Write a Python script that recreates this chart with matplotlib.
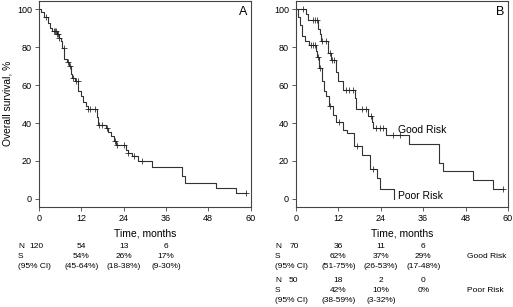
import numpy as np
import matplotlib
matplotlib.use("Agg")
from matplotlib import pyplot as plt
import matplotlib.transforms as mtransforms

plt.rcParams['font.family'] = ['Liberation Sans', 'DejaVu Sans']

# panel A: all patients (event times, survival after event)
a_t = [0, 0.7, 1.5, 2.5, 3.2, 3.8, 5.0, 5.6, 6.2, 6.6, 7.2, 8.0, 8.6, 9.0, 9.4, 10.2,
       11.2, 11.8, 12.4, 13.2, 13.8, 16.4, 16.8, 19.0, 19.6, 20.4, 21.4, 21.8, 24.6,
       25.2, 26.4, 28.0, 32.0, 40.6, 41.3, 50.3, 56.0]
a_s = [100, 98.5, 96, 93, 90, 88.5, 87, 85, 83, 79.5, 74, 72, 70, 66, 63.5, 62,
       57, 54, 51, 49, 47.5, 43, 39, 37.5, 35.5, 33, 30.5, 28.5, 26,
       24, 22.5, 20, 17, 12, 8.6, 5.6, 3]
a_end = 58.6
a_cens = [2.1, 4.3, 4.6, 4.9, 5.2, 5.5, 5.8, 7.0, 8.3, 8.7, 9.6, 10.4, 11.0, 13.9,
          14.6, 15.9, 17.0, 17.8, 19.3, 21.6, 22.1, 24.0, 25.2, 27.0, 29.2, 58.6]

# panel B: good risk
g_t = [0, 2.8, 3.4, 6.3, 6.8, 7.1, 9.0, 9.9, 11.3, 11.9, 13.2, 16.6, 16.9, 20.4,
       21.5, 21.9, 25.6, 32.1, 40.6, 41.5, 50.2, 55.8]
g_s = [100, 97.5, 94.5, 89.5, 87, 83, 77, 73, 67, 62, 57.5, 53, 47.5, 43.5,
       40.5, 37.5, 33.8, 29, 19, 14.7, 10, 5]
g_end = 58.7
g_cens = [2.1, 4.9, 5.5, 5.9, 7.3, 8.6, 9.6, 10.3, 10.8, 14.1, 14.9, 16.1, 18.6,
          19.9, 21.1, 22.6, 23.7, 24.7, 27.4, 29.5, 58.7]

# panel B: poor risk
p_t = [0, 0.6, 1.1, 1.6, 2.5, 3.8, 5.6, 6.0, 6.4, 7.3, 8.0, 8.6, 9.2, 10.4, 11.2,
       13.4, 14.4, 16.4, 18.8, 21.0, 22.8, 23.8, 27.8]
p_s = [100, 96, 91.5, 86, 83.5, 81, 78, 75, 69, 62, 57, 54, 49, 44, 40.5,
       36.5, 35, 28, 23, 16, 11, 5, 0]
p_end = 27.8
p_cens = [4.2, 4.7, 5.4, 6.2, 6.8, 9.6, 12.2, 17.2, 21.9]

# numbers-at-risk tables
tab_times = [0, 12, 24, 36]
a_n = ['120', '54', '13', '6']
a_surv = ['', '54%', '26%', '17%']
a_ci = ['', '(45-64%)', '(18-38%)', '(9-30%)']
g_n = ['70', '36', '11', '6']
g_surv = ['', '62%', '37%', '29%']
g_ci = ['', '(51-75%)', '(26-53%)', '(17-48%)']
p_n = ['50', '18', '2', '0']
p_surv = ['', '42%', '10%', '0%']
p_ci = ['', '(38-59%)', '(3-32%)', '']

W, H = 513, 307
fig = plt.figure(figsize=(W / 100, H / 100), dpi=100)
lc = '#333333'


def km(ax, t, s, end, cens):
    t = list(t); s = list(s)
    if end > t[-1]:
        t = t + [end]; s = s + [s[-1]]
    ax.step(t, s, where='post', color=lc, lw=0.8)
    idx = np.searchsorted(t, cens, side='right') - 1
    ax.plot(cens, np.array(s)[idx], ls='none', marker='+', ms=4.5, mew=0.55, color='#222222')


def setup(ax, letter):
    ax.set_xlim(0, 60)
    ax.set_ylim(-4.1, 104.6)
    ax.set_xticks([0, 12, 24, 36, 48, 60])
    ax.set_yticks([0, 20, 40, 60, 80, 100])
    ax.tick_params(labelsize=6.5, length=3, width=0.6, pad=2, color='#444444')
    for sp in ax.spines.values():
        sp.set_linewidth(0.8)
        sp.set_color('#444444')
    ax.text(0.985, 0.975, letter, transform=ax.transAxes, ha='right', va='top', fontsize=9)


def py(pix):
    return 1 - pix / H


axA = fig.add_axes([39 / W, py(206.7), 211.5 / W, 206.2 / H])
axB = fig.add_axes([296 / W, py(206.7), 212 / W, 206.2 / H])
km(axA, a_t, a_s, a_end, a_cens)
km(axB, g_t, g_s, g_end, g_cens)
km(axB, p_t, p_s, p_end, p_cens)
setup(axA, 'A')
setup(axB, 'B')
axA.set_ylabel('Overall survival, %', fontsize=7.4, labelpad=3)
axB.text(28.9, 36.5, 'Good Risk', fontsize=7.5, va='center', ha='left')
axB.text(28.9, 1.5, 'Poor Risk', fontsize=7.5, va='center', ha='left')

for ax in (axA, axB):
    xc = (ax.get_position().x0 + ax.get_position().x1) / 2
    fig.text(xc, py(233), 'Time, months', fontsize=7.5, ha='center', va='center')


def table(ax, rows_y, n, surv, ci, label=None):
    tr = mtransforms.blended_transform_factory(ax.transData, fig.transFigure)
    x0 = ax.get_position().x0 - 21 / W
    fs = 6
    fig.text(x0, py(rows_y[0]), 'N', fontsize=fs, va='center')
    fig.text(x0, py(rows_y[1]), 'S', fontsize=fs, va='center')
    fig.text(x0, py(rows_y[2]), '(95% CI)', fontsize=fs, va='center')
    for i, tt in enumerate(tab_times):
        xx = tt - 0.6 if i == 0 else tt
        ax.text(xx, py(rows_y[0]), n[i], transform=tr, fontsize=fs, ha='center', va='center')
        ax.text(tt, py(rows_y[1]), surv[i], transform=tr, fontsize=fs, ha='center', va='center')
        ax.text(tt, py(rows_y[2]), ci[i], transform=tr, fontsize=fs, ha='center', va='center')
    if label:
        fig.text(467 / W, py(rows_y[1]), label, fontsize=fs, va='center')


table(axA, [246, 256, 266], a_n, a_surv, a_ci)
table(axB, [246, 256, 266], g_n, g_surv, g_ci, 'Good Risk')
table(axB, [280, 290, 300], p_n, p_surv, p_ci, 'Poor Risk')

fig.savefig('out.png', dpi=100)
